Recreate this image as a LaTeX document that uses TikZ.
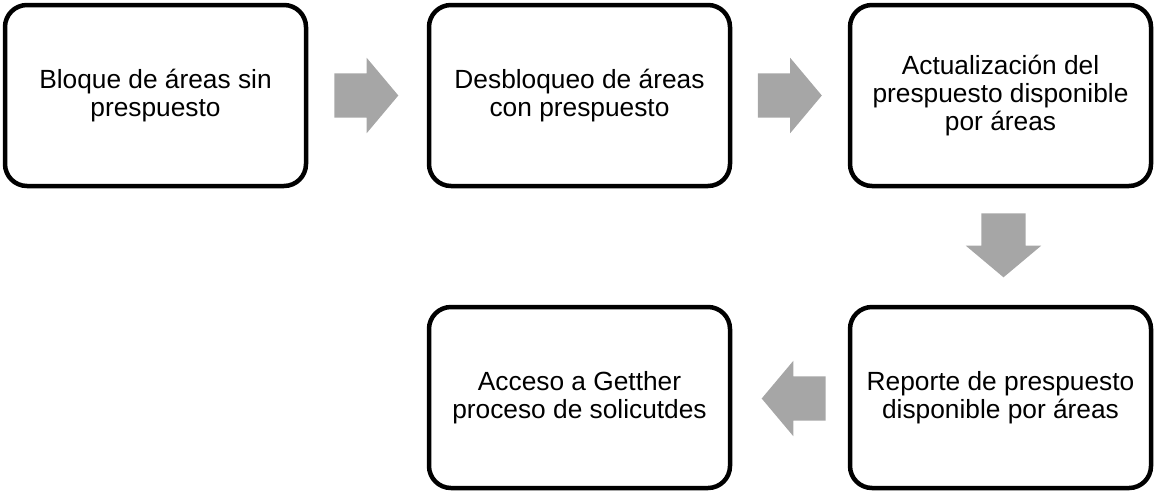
\documentclass[tikz,border=0pt]{standalone}
\usepackage{fontspec}
\setmainfont{Liberation Sans}
\usetikzlibrary{shapes.arrows}
\definecolor{arrowgray}{RGB}{166,166,166}

\begin{document}
\begin{tikzpicture}[x=1pt, y=-1pt,
box/.style={rectangle, draw, line width=4.5pt, rounded corners=22pt, minimum width=301pt, minimum height=181pt, inner sep=0pt, align=center, font=\fontsize{26.3}{28}\selectfont},
blockarrow/.style={single arrow, fill=arrowgray, inner xsep=0pt, inner ysep=22pt, minimum height=64pt, single arrow head extend=15.5pt, single arrow tip angle=100}]

\useasboundingbox (0,0) rectangle (1155,491);

\node[box] (1) at (155.5,95.5) {Bloque de áreas sin\\prespuesto};
\node[box] (2) at (579.5,95.5) {Desbloqueo de áreas\\con prespuesto};
\node[box] (3) at (1000.5,95.5) {Actualización del\\prespuesto disponible\\por áreas};
\node[box] (4) at (1000.5,397.5) {Reporte de prespuesto\\disponible por áreas};
\node[box] (5) at (579.5,397.5) {Acceso a Getther\\proceso de solicutdes};

\node[blockarrow] (a12) at (357,95.5) {};
\node[blockarrow] (a23) at (780.5,95.5) {};
\node[blockarrow, rotate=-90] (a34) at (1003.5,236) {};
\node[blockarrow, rotate=180] (a45) at (803,398.5) {};

\end{tikzpicture}
\end{document}
